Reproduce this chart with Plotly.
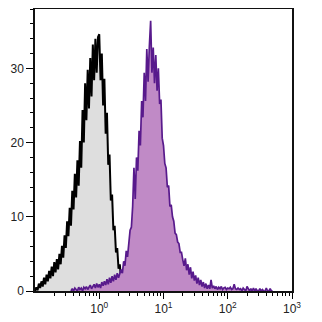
import numpy as np
import plotly.graph_objects as go

# log10 bin start and step for each histogram
black_start = -1.00
purple_start = -0.44
bin_step = 0.02

black_counts = [
    0, 0.5, 0.1, 1.0, 0.4, 1.3, 0.6, 1.8, 0.9, 2.2,
    1.3, 2.7, 1.7, 3.3, 2.0, 3.9, 2.5, 4.3, 2.9, 5.0,
    3.6, 6.1, 4.5, 7.5, 5.8, 9.4, 7.4, 11.2, 8.8, 13.5,
    11.0, 15.8, 12.6, 17.6, 14.2, 20.2, 16.6, 24.4, 20.0, 28.0,
    23.0, 29.8, 24.6, 31.4, 26.2, 33.2, 28.4, 34.0, 29.4, 34.2,
    34.6, 28.4, 32.0, 25.0, 28.6, 21.2, 24.0, 17.0, 18.4, 12.2,
    13.0, 8.2, 8.8, 5.2, 5.8, 3.0, 3.6, 1.5, 2.1, 0.6,
    1.0, 0.2, 0.4, 0,
]

purple_counts = [
    0, 0.3, 0, 0.4, 0.2, 0, 0.5, 0.2, 0.4, 0,
    0.5, 0.3, 0.6, 0.2, 0.5, 0.8, 0.3, 0.6, 0.9, 0.4,
    1.0, 0.5, 0.9, 0.4, 1.2, 0.7, 1.3, 0.8, 1.6, 0.9,
    1.8, 1.1, 2.0, 1.3, 2.2, 1.5, 2.4, 1.8, 2.3, 2.9,
    2.4, 4.0, 3.4, 5.4, 4.6, 6.2, 8.2, 8.6, 11.4, 16.6,
    12.4, 18.0, 16.2, 21.6, 19.6, 25.6, 23.4, 29.4, 25.6, 32.6,
    28.2, 33.0, 36.4, 29.4, 32.8, 28.0, 31.8, 27.0, 30.0, 25.2,
    25.8, 20.6, 19.6, 17.2, 16.6, 14.0, 14.2, 11.4, 11.6, 10.0,
    9.4, 7.8, 7.6, 6.6, 6.4, 5.2, 5.2, 4.2, 3.4, 4.4,
    2.8, 3.6, 2.2, 3.2, 1.7, 2.6, 1.4, 2.1, 1.0, 1.8,
    0.8, 1.5, 0.6, 1.2, 0.4, 1.0, 0.3, 0.8, 0.3, 1.5,
    0.4, 0.7, 0.3, 0.6, 0.2, 0.5, 0.3, 0.6, 0.2, 0.4,
    0.5, 0.2, 0.4, 0.3, 0.5, 0.2, 0.3, 0.9, 0.3, 0.2,
    0.4, 0.2, 0.3, 0, 0.4, 0.2, 0, 0.6, 0.2, 0,
    0.3, 0, 0.4, 0, 0.3, 0, 0, 0.3, 0, 0.2,
    0, 0, 0.4, 0, 0, 0.3, 0, 0,
]

x_tick_vals = [1, 10, 100, 1000]
x_tick_text = ["10<sup>0</sup>", "10<sup>1</sup>", "10<sup>2</sup>", "10<sup>3</sup>"]
y_tick_vals = [0, 10, 20, 30]

black_x = 10 ** (black_start + bin_step * np.arange(len(black_counts)))
purple_x = 10 ** (purple_start + bin_step * np.arange(len(purple_counts)))

minor_x = [m * 10 ** d for d in range(-1, 3) for m in range(2, 10)]

fig = go.Figure()
fig.add_trace(go.Scatter(
    x=black_x, y=black_counts, mode="lines", fill="tozeroy",
    fillcolor="#dedede", line=dict(color="#000000", width=2),
    hoverinfo="skip", showlegend=False,
))
fig.add_trace(go.Scatter(
    x=purple_x, y=purple_counts, mode="lines", fill="tozeroy",
    fillcolor="#c08ac6", line=dict(color="#581a8c", width=1.7),
    hoverinfo="skip", showlegend=False,
))

# the page body adds an 8px offset, so the figure is 314px and margins compensate
fig.update_layout(
    width=314, height=314,
    margin=dict(l=27, r=30, t=1, b=31, autoexpand=False),
    paper_bgcolor="white", plot_bgcolor="white",
    font=dict(family="Liberation Sans, Arial, sans-serif", size=12, color="#222"),
    xaxis=dict(
        type="log", range=[-1, 3], showgrid=False, zeroline=False,
        automargin=False,
        tickmode="array", tickvals=x_tick_vals, ticktext=x_tick_text,
        ticks="outside", ticklen=6, tickwidth=1, tickcolor="#000",
        showline=True, linecolor="#111", linewidth=1.5, mirror=True,
        minor=dict(tickmode="array", tickvals=minor_x, ticks="outside",
                   ticklen=3, tickwidth=1, tickcolor="#000", showgrid=False),
        tickfont=dict(size=12),
    ),
    yaxis=dict(
        range=[0, 38], showgrid=False, zeroline=False,
        automargin=False,
        tickmode="array", tickvals=y_tick_vals,
        ticks="outside", ticklen=7, tickwidth=1, tickcolor="#000",
        showline=True, linecolor="#111", linewidth=1.5, mirror=True,
        minor=dict(dtick=2, ticks="outside", ticklen=3.5, tickwidth=1,
                   tickcolor="#000", showgrid=False),
        tickfont=dict(size=12),
    ),
)

fig.write_html("out.html")
